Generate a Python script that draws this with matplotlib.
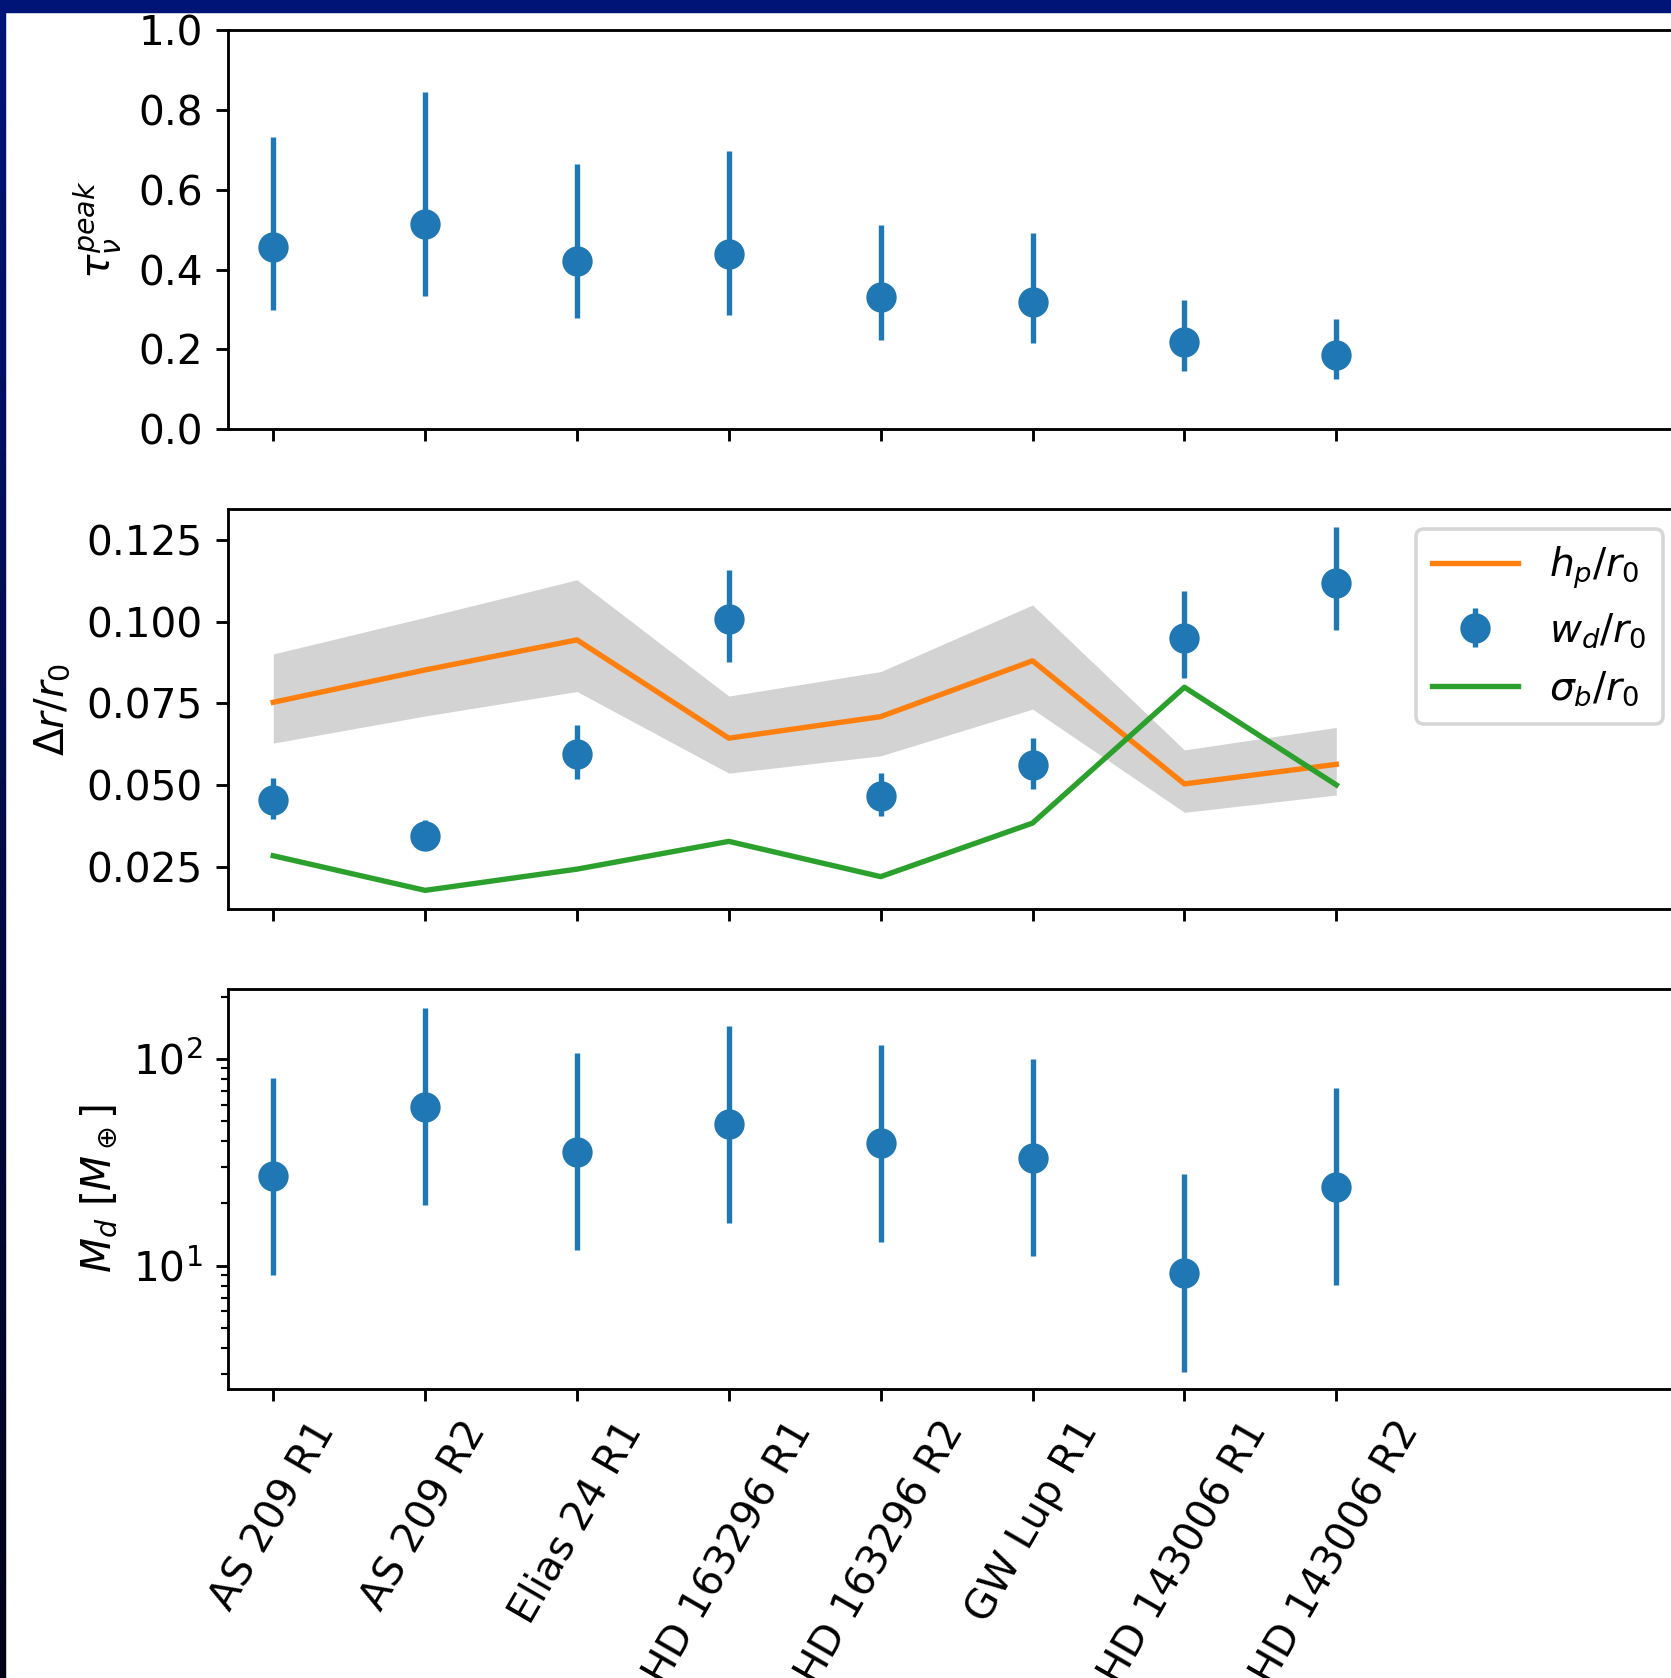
import numpy as np
import matplotlib
matplotlib.use("Agg")
import matplotlib.pyplot as plt
from matplotlib.patches import Rectangle

# ring names
names = ["AS 209 R1", "AS 209 R2", "Elias 24 R1", "HD 163296 R1",
         "HD 163296 R2", "GW Lup R1", "HD 143006 R1", "HD 143006 R2"]

# peak optical depth (value, upper end, lower end)
tau = [0.456, 0.515, 0.421, 0.439, 0.332, 0.320, 0.218, 0.186]
tau_hi = [0.731, 0.845, 0.665, 0.696, 0.512, 0.492, 0.324, 0.276]
tau_lo = [0.300, 0.334, 0.279, 0.287, 0.223, 0.215, 0.146, 0.127]

# widths
hp = [0.0753, 0.0852, 0.0944, 0.0643, 0.0709, 0.0880, 0.0503, 0.0563]
hp_hi = [0.0901, 0.1013, 0.1128, 0.0772, 0.0847, 0.1051, 0.0607, 0.0676]
hp_lo = [0.0628, 0.0711, 0.0786, 0.0536, 0.0589, 0.0732, 0.0416, 0.0469]
wd = [0.0454, 0.0342, 0.0595, 0.1008, 0.0467, 0.0561, 0.0951, 0.1119]
wd_hi = [0.0522, 0.0391, 0.0683, 0.1158, 0.0536, 0.0643, 0.1095, 0.1289]
wd_lo = [0.0396, 0.0301, 0.0517, 0.0876, 0.0405, 0.0487, 0.0827, 0.0974]
sb = [0.0283, 0.0177, 0.0242, 0.0327, 0.0219, 0.0383, 0.0799, 0.0500]

# dust mass [M_earth]
md = [27.0, 58.8, 35.3, 48.5, 39.1, 33.0, 9.25, 23.9]
md_hi = [80.6, 175.7, 106.5, 144.4, 116.8, 99.6, 27.7, 72.1]
md_lo = [9.0, 19.6, 11.9, 16.1, 13.0, 11.1, 3.07, 8.05]

plt.rcParams['font.size'] = 11.4

W, H = 1671, 1678
dpi = 257
fig = plt.figure(figsize=(W / dpi, H / dpi), dpi=dpi)

# slide background: dark blue gradient border, white page
bg = fig.add_axes([0, 0, 1, 1], zorder=-5)
grad = np.linspace(0, 1, 256)[:, None]
top = np.array([0.0, 0.078, 0.47])
bot = np.array([0.0, 0.012, 0.09])
img = top[None, None, :] * (1 - grad[:, :, None]) + bot[None, None, :] * grad[:, :, None]
bg.imshow(img, extent=[0, W, H, 0], aspect="auto")
bg.add_patch(Rectangle((8, 15), W - 8, H - 15, color="white"))
bg.set_xlim(0, W)
bg.set_ylim(H, 0)
bg.axis("off")

x = np.arange(len(names))
left = 227.7 / W
width = 10.3 * 151.86 / W

ax1 = fig.add_axes([left, 1 - 429.3 / H, width, 399.3 / H])
ax2 = fig.add_axes([left, 1 - 909.3 / H, width, 400 / H], sharex=ax1)
ax3 = fig.add_axes([left, 1 - 1389.3 / H, width, 400 / H], sharex=ax1)

tau = np.array(tau)
ax1.errorbar(x, tau, yerr=[tau - np.array(tau_lo), np.array(tau_hi) - tau],
             fmt="o", ms=7.5, color="C0")
ax1.set_ylim(0, 1.0)
ax1.set_yticks([0.0, 0.2, 0.4, 0.6, 0.8, 1.0])
ax1.set_ylabel(r"$\tau_\nu^{peak}$")

ax2.fill_between(x, hp_lo, hp_hi, color="lightgray", lw=0)
l1, = ax2.plot(x, hp, color="C1", label=r"$h_p/r_0$")
wd = np.array(wd)
e1 = ax2.errorbar(x, wd, yerr=[wd - np.array(wd_lo), np.array(wd_hi) - wd],
                  fmt="o", ms=7.5, color="C0", label=r"$w_d/r_0$")
l2, = ax2.plot(x, sb, color="C2", label=r"$\sigma_b/r_0$")
ax2.set_ylim(0.0119, 0.1344)
ax2.set_yticks([0.025, 0.050, 0.075, 0.100, 0.125])
ax2.set_ylabel(r"$\Delta r/r_0$")
ax2.legend(handles=[l1, e1, l2], loc="upper left",
           bbox_to_anchor=(1416 / W, 1 - 529 / H),
           bbox_transform=fig.transFigure, borderaxespad=0,
           fontsize=11, handlelength=2.2)

md = np.array(md)
ax3.errorbar(x, md, yerr=[md - np.array(md_lo), np.array(md_hi) - md],
             fmt="o", ms=7.5, color="C0")
ax3.set_yscale("log")
ax3.set_ylim(2.52, 217)
ax3.set_ylabel(r"$M_d$ [$M_\oplus$]")

ax1.set_xlim(-0.3, 10)
ax3.set_xticks(x)
ax3.set_xticklabels(names, rotation=60)
ax1.tick_params(labelbottom=False)
ax2.tick_params(labelbottom=False)

fig.savefig("out.png", dpi=dpi)
